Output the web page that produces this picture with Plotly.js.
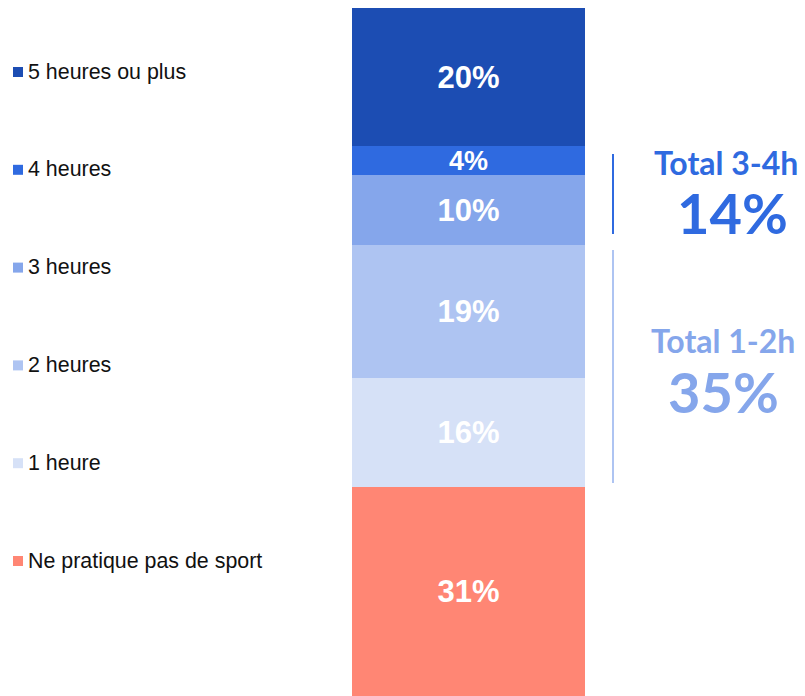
<!DOCTYPE html>
<html><head><meta charset="utf-8">
<script src="https://cdn.plot.ly/plotly-3.0.1.min.js"></script>
<style>html,body{margin:0;padding:0;background:#fff;}</style>
</head><body><div id="chart" style="width:805px;height:696px;"></div>
<script>
// Data (bottom to top)
const categories = ["Ne pratique pas de sport", "1 heure", "2 heures", "3 heures", "4 heures", "5 heures ou plus"];
const values = [30.4, 15.8, 19.3, 10.2, 4.2, 20.1];
const valueLabels = ["31%", "16%", "19%", "10%", "4%", "20%"];
const colors = ["#FF8674", "#D6E1F7", "#AEC4F2", "#85A6EB", "#2F6AE0", "#1C4DB3"];
const labelSizes = [31, 31, 31, 31, 27, 31];
const totalLabels = ["Total 3-4h", "Total 1-2h"];
const totalValues = ["14%", "35%"];
const totalColors = ["#2F6AE0", "#85A6EB"];
const lineColors = ["#2F6AE0", "#AEC4F2"];

const W = 805, H = 696;
const M = {l: 352, r: 220, t: 8, b: 0};
const pw = W - M.l - M.r, ph = H - M.t - M.b;
const px = x => (x - M.l) / pw;
const py = y => (H - M.b - y) / ph;

const traces = categories.map((c, i) => ({
  type: 'bar', x: [''], y: [values[i]], name: c,
  marker: {color: colors[i], line: {width: 0}},
  text: [valueLabels[i]], textposition: 'inside', insidetextanchor: 'middle',
  constraintext: 'none',
  textfont: {family: 'Liberation Sans, Arial, sans-serif', size: labelSizes[i], color: '#FFFFFF', weight: 'bold'},
  hoverinfo: 'skip', showlegend: false
}));

const annotations = [];
const shapes = [];
// custom legend: top item first
const legendTop = 71.5, legendStep = 97.8;
for (let k = 0; k < categories.length; k++) {
  const i = categories.length - 1 - k;
  const yc = legendTop + k * legendStep;
  shapes.push({type: 'rect', xref: 'paper', yref: 'paper',
    x0: px(13), x1: px(23), y0: py(yc + 5.5), y1: py(yc - 4.5),
    fillcolor: colors[i], line: {width: 0}});
  annotations.push({xref: 'paper', yref: 'paper', x: px(26), y: py(yc),
    xanchor: 'left', yanchor: 'middle', showarrow: false, text: categories[i],
    font: {family: 'Liberation Sans, Arial, sans-serif', size: 21.4, color: '#111111'}});
}
// bracket lines
const lineSpans = [[154, 234], [250, 483]];
lineSpans.forEach((s, i) => {
  shapes.push({type: 'line', xref: 'paper', yref: 'paper', x0: px(613), x1: px(613),
    y0: py(s[0]), y1: py(s[1]), line: {color: lineColors[i], width: 2}});
});
// totals
const totalPos = [[726, 163, 213, 732], [723, 340, 391, 723]];
totalLabels.forEach((t, i) => {
  annotations.push({xref: 'paper', yref: 'paper', x: px(totalPos[i][0]), y: py(totalPos[i][1]),
    xanchor: 'center', yanchor: 'middle', showarrow: false, text: t,
    font: {family: 'Lato, sans-serif', size: 32, color: totalColors[i], weight: 'bold'}});
  annotations.push({xref: 'paper', yref: 'paper', x: px(totalPos[i][3]), y: py(totalPos[i][2]),
    xanchor: 'center', yanchor: 'middle', showarrow: false, text: totalValues[i],
    font: {family: 'Lato, sans-serif', size: 56, color: totalColors[i], weight: 'bold'}});
});

const layout = {
  width: W, height: H, margin: M, barmode: 'stack', bargap: 0,
  paper_bgcolor: '#fff', plot_bgcolor: '#fff', showlegend: false,
  xaxis: {visible: false, range: [-0.5, 0.5], fixedrange: true},
  yaxis: {visible: false, range: [0, 100], fixedrange: true},
  shapes: shapes, annotations: annotations
};
Plotly.newPlot('chart', traces, layout, {displayModeBar: false, staticPlot: true});
</script></body></html>
